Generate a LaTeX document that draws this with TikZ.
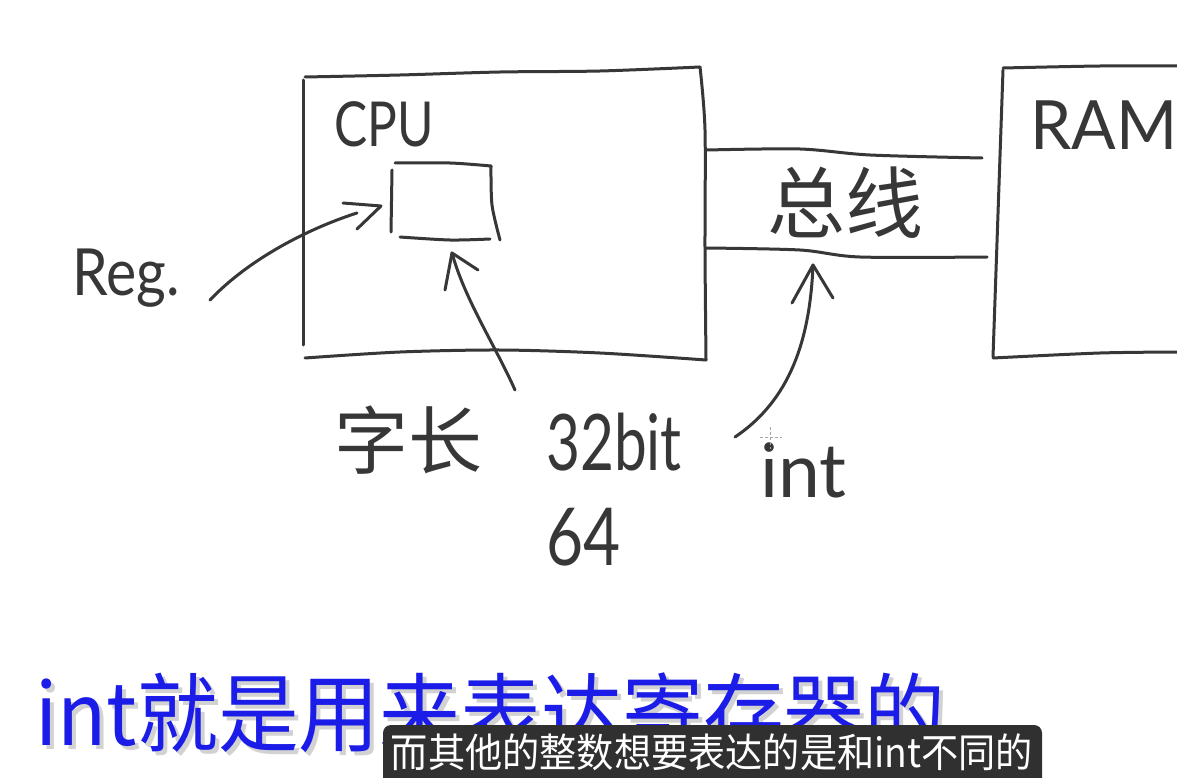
\documentclass[tikz,border=0pt]{standalone}
\usepackage{fontspec}
\setmainfont{Lato}
\newfontfamily\cjk{Noto Sans CJK SC}
\usetikzlibrary{calc}
\definecolor{ink}{RGB}{55,55,55}
\definecolor{blueT}{RGB}{28,28,232}
\definecolor{subbg}{RGB}{48,48,48}
\begin{document}
\begin{tikzpicture}[x=1pt,y=-1pt,
  pen/.style={draw=ink,line width=3pt,line cap=round,line join=round},
  hand/.style={text=ink,inner sep=0pt},
  fs/.style={font=\fontsize{#1}{#1}\selectfont}]
\useasboundingbox[fill=white] (0,0) rectangle (1177,778);
% CPU box
\draw[pen] plot[smooth] coordinates {(305,77)(400,75)(500,72)(600,71)(700,67)};
\draw[pen] plot[smooth] coordinates {(700,67)(705,130)(705,250)(706,360)};
\draw[pen] plot[smooth] coordinates {(305,358)(400,352)(500,350)(600,353)(706,360)};
\draw[pen] (303,80) -- (303,345);
\node[hand,fs=62,xscale=0.8] (cpu) at (384,124) {CPU};
% register
\draw[pen] plot[smooth] coordinates {(395,163)(450,163)(491,166)};
\draw[pen] plot[smooth] coordinates {(491,166)(492,205)(500,240)};
\draw[pen] (392,170) -- (391,232);
\draw[pen] plot[smooth] coordinates {(400,237)(450,240)(490,239)};
% bus
\draw[pen] plot[smooth] coordinates {(707,150)(800,149)(870,155)(982,158)};
\draw[pen] plot[smooth] coordinates {(706,248)(800,250)(860,257)(987,257)};
\node[hand,font=\cjk\fontsize{78}{78}\selectfont] (bus) at (845,203) {总线};
% RAM box
\draw[pen] plot[smooth] coordinates {(1003,68)(1100,66)(1180,66)};
\draw[pen] (1003,70) -- (993,357);
\draw[pen] plot[smooth] coordinates {(993,358)(1100,353)(1180,352)};
\node[hand,fs=68,xscale=0.97,anchor=base west] (ram) at (1030,150) {RAM};
% labels
\node[hand,fs=65,xscale=0.88,anchor=base west] (reg) at (72,295) {Reg.};
\node[hand,font=\cjk\fontsize{74}{74}\selectfont] (zichang) at (408,440) {字长};
\node[hand,fs=78,xscale=0.75,anchor=base west] (bits) at (546,470) {32bit};
\node[hand,fs=80,xscale=0.8,anchor=base west] (six) at (546,565) {64};
\node[hand,fs=75,anchor=base west] (int) at (760,497) {int};
% cursor
\draw[ink!45,line width=1pt,dash pattern=on 3pt off 2pt] (760,437) -- (782,437) (770,427) -- (770,449);
% arrows
\coordinate (regtail) at (210,300);
\coordinate (regend) at (357,213);
\coordinate (regtip) at (381,206);
\draw[pen] (regtail) .. controls (250,258) and (310,228) .. (regend);
\draw[pen] ($(regtip)+(-38,-3)$) -- (regtip) -- ($(regtip)+(-24,23)$);
\coordinate (wtail) at (515,390);
\coordinate (wtip) at (452,253);
\draw[pen] (wtail) .. controls (495,345) and (465,300) .. (wtip);
\draw[pen] ($(wtip)+(-7,37)$) -- (wtip) -- ($(wtip)+(26,17)$);
\coordinate (itail) at (735,437);
\coordinate (itip) at (813,265);
\draw[pen] (itail) .. controls (790,400) and (810,340) .. (itip);
\draw[pen] ($(itip)+(-21,38)$) -- (itip) -- ($(itip)+(20,33)$);
% subtitles
\node[text=black!35,opacity=0.5,inner sep=0pt,anchor=base west,xscale=0.94,font=\cjk\fontsize{86}{86}\selectfont] at (39,749) {int就是用来表达寄存器的};
\node[text=blueT,inner sep=0pt,anchor=base west,xscale=0.94,font=\cjk\fontsize{86}{86}\selectfont] (main) at (35,745) {int就是用来表达寄存器的};
\fill[subbg,rounded corners=8pt] (383,725) rectangle (1042,795);
\node[text=white,inner sep=0pt,xscale=0.93,font=\cjk\fontsize{40}{40}\selectfont] (sub) at (712,752) {而其他的整数想要表达的是和int不同的};
\end{tikzpicture}
\end{document}
